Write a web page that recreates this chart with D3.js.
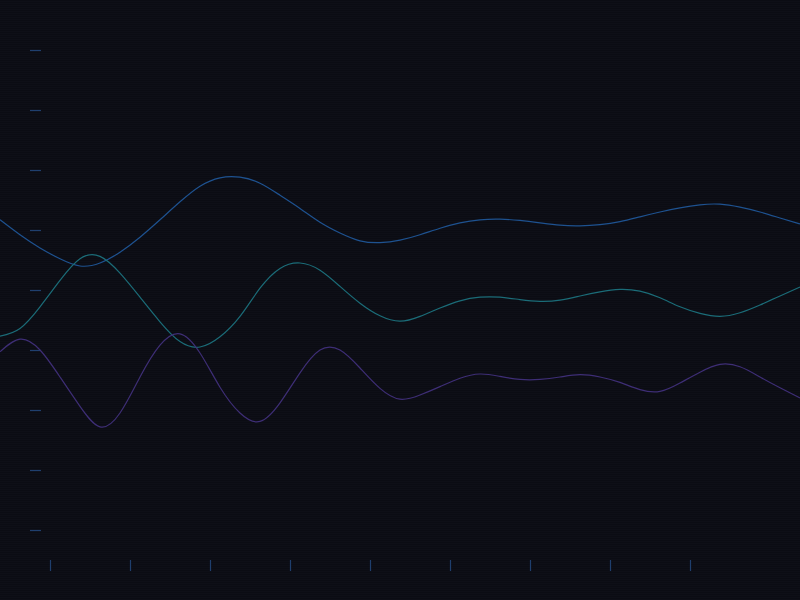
<!DOCTYPE html>
<html>
<head>
<meta charset="utf-8">
<script src="https://d3js.org/d3.v7.min.js"></script>
<style>
body {
  margin: 0;
  padding: 0;
  background-color: #0b0c13;
  background-image: repeating-linear-gradient(to bottom, #0b0c13 0px, #0b0c13 1px, #0e0f17 1px, #0e0f17 2px);
}
svg { display: block; }
.axis path { display: none; }
.axis line { stroke: #1f3f6e; stroke-width: 1.2; }
.axis text { display: none; }
.wave { fill: none; stroke-width: 1.2; }
</style>
</head>
<body>
<svg id="chart" width="800" height="600"></svg>
<script>
// samples every 20px across the width (41 points)
var blueVals = [5.17, 4.92, 4.70, 4.52, 4.40, 4.45, 4.63, 4.88, 5.17, 5.47, 5.73, 5.87, 5.88, 5.78, 5.58, 5.36, 5.13, 4.95, 4.82, 4.79,
  4.83, 4.92, 5.03, 5.12, 5.17, 5.18, 5.16, 5.12, 5.08, 5.07, 5.09, 5.14, 5.22, 5.30, 5.37, 5.42, 5.43, 5.38, 5.30, 5.20, 5.10];
var tealVals = [3.23, 3.36, 3.72, 4.16, 4.52, 4.56, 4.28, 3.88, 3.47, 3.14, 3.05, 3.22, 3.56, 4.03, 4.36, 4.45, 4.33, 4.06, 3.78, 3.57,
  3.48, 3.56, 3.70, 3.82, 3.88, 3.88, 3.84, 3.81, 3.83, 3.90, 3.97, 4.01, 3.98, 3.87, 3.72, 3.61, 3.56, 3.62, 3.75, 3.90, 4.05];
var purpleVals = [2.97, 3.18, 3.00, 2.55, 2.06, 1.72, 1.95, 2.55, 3.08, 3.27, 2.95, 2.38, 1.95, 1.81, 2.12, 2.62, 3.00, 3.00, 2.70, 2.36,
  2.18, 2.25, 2.39, 2.53, 2.60, 2.56, 2.51, 2.51, 2.55, 2.59, 2.55, 2.46, 2.34, 2.31, 2.45, 2.63, 2.76, 2.72, 2.55, 2.37, 2.20];

var seriesNames = ["blue", "teal", "purple"];
var seriesColors = ["#1e5290", "#1b6c78", "#3e2e76"];

var xTicks = [2.5, 6.5, 10.5, 14.5, 18.5, 22.5, 26.5, 30.5, 34.5];
var yTicks = [0, 1, 2, 3, 4, 5, 6, 7, 8];

var width = 800, height = 600;
var svg = d3.select("#chart");

var x = d3.scaleLinear().domain([0, blueVals.length - 1]).range([0, width]);
var y = d3.scaleLinear().domain([0, 8]).range([530, 50]);

svg.append("g")
  .attr("class", "axis")
  .attr("transform", "translate(41,0)")
  .call(d3.axisLeft(y).tickValues(yTicks).tickSize(11).tickFormat(""));

svg.append("g")
  .attr("class", "axis")
  .attr("transform", "translate(0,560)")
  .call(d3.axisBottom(x).tickValues(xTicks).tickSize(11).tickFormat(""));

var line = d3.line()
  .x(function(d, i) { return x(i); })
  .y(function(d) { return y(d); })
  .curve(d3.curveNatural);

var allSeries = [blueVals, tealVals, purpleVals];

svg.selectAll(".wave")
  .data(allSeries)
  .enter()
  .append("path")
  .attr("class", "wave")
  .attr("stroke", function(d, i) { return seriesColors[i]; })
  .attr("d", line);
</script>
</body>
</html>
